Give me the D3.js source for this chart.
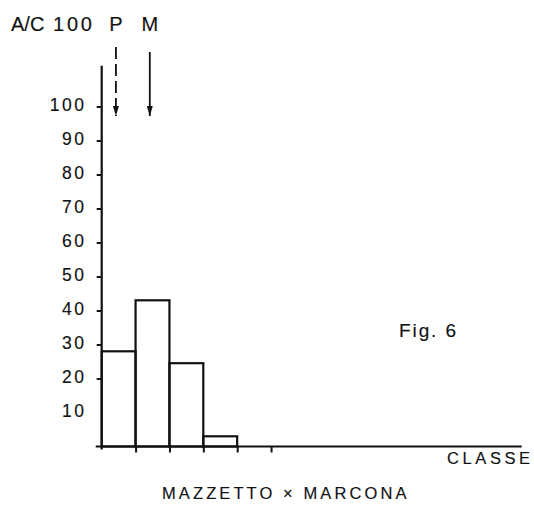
<!DOCTYPE html>
<html>
<head>
<meta charset="utf-8">
<script src="https://cdn.jsdelivr.net/npm/d3@7/dist/d3.min.js"></script>
<style>
  html, body { margin: 0; padding: 0; background: #fff; }
  svg { display: block; }
  text { font-family: "Liberation Sans", Arial, Helvetica, sans-serif; fill: #111; stroke: #111; stroke-width: 0.15px; }
</style>
</head>
<body>
<svg id="chart" width="534" height="514"></svg>
<script>
// Histogram: percentage of plants per class, Mazzetto x Marcona cross
const classIndex = [0, 1, 2, 3];
const percentValues = [28, 43, 24.5, 3];
const yTickValues = [10, 20, 30, 40, 50, 60, 70, 80, 90, 100];
const classEdges = [1, 2, 3, 4, 5];
// parent class positions (P dashed, M solid)
const parentLabels = ["P", "M"];
const parentClass = [0.42, 1.42];
const parentDashed = [true, false];

const svg = d3.select("#chart");
const ink = "#111";

const x = d3.scaleLinear().domain([0, 12.4]).range([101.7, 521.7]);
const y = d3.scaleLinear().domain([0, 100]).range([446.5, 106.5]);

// bars
svg.append("g").selectAll("rect")
  .data(classIndex)
  .join("rect")
  .attr("x", i => x(i))
  .attr("y", i => y(percentValues[i]))
  .attr("width", i => x(i + 1) - x(i))
  .attr("height", i => y(0) - y(percentValues[i]))
  .attr("fill", "none")
  .attr("stroke", ink)
  .attr("stroke-width", 2.2);

// y axis
const yAxis = svg.append("g")
  .attr("transform", `translate(${x(0)},0)`)
  .call(d3.axisLeft(y).tickValues(yTickValues).tickSize(5).tickPadding(10).tickFormat(d3.format("d")));
yAxis.select(".domain").remove();
yAxis.selectAll(".tick line").attr("stroke", ink).attr("stroke-width", 2)
  .attr("opacity", d => d === 10 ? 0 : 1);
yAxis.selectAll(".tick text")
  .attr("font-size", 17.5)
  .attr("letter-spacing", "2.6px")
  .attr("dy", "0.22em")
  .attr("font-family", "Liberation Sans, Arial, sans-serif")
  .attr("fill", ink);
svg.append("line")
  .attr("x1", x(0)).attr("x2", x(0))
  .attr("y1", y(112)).attr("y2", y(0) + 3)
  .attr("stroke", ink).attr("stroke-width", 2.2);

// x axis
const xAxis = svg.append("g")
  .attr("transform", `translate(0,${y(0)})`)
  .call(d3.axisBottom(x).tickValues(classEdges).tickSize(6).tickFormat(""));
xAxis.select(".domain").remove();
xAxis.selectAll(".tick line").attr("stroke", ink).attr("stroke-width", 2);
svg.append("line")
  .attr("x1", x(0) - 6).attr("x2", x(12.4))
  .attr("y1", y(0)).attr("y2", y(0))
  .attr("stroke", ink).attr("stroke-width", 2);

// parent arrows
const defs = svg.append("defs");
defs.append("marker")
  .attr("id", "head")
  .attr("viewBox", "0 0 10 6")
  .attr("refX", 10).attr("refY", 3)
  .attr("markerWidth", 10).attr("markerHeight", 6)
  .attr("markerUnits", "userSpaceOnUse")
  .attr("orient", "auto")
  .append("path").attr("d", "M0,0 L10,3 L0,6 Z").attr("fill", ink);

const arrowTop = [47, 52];
parentLabels.forEach((lab, i) => {
  const cx = x(parentClass[i]);
  svg.append("line")
    .attr("x1", cx).attr("x2", cx)
    .attr("y1", arrowTop[i]).attr("y2", 116)
    .attr("stroke", ink).attr("stroke-width", 1.8)
    .attr("stroke-dasharray", parentDashed[i] ? "12,5" : null)
    .attr("marker-end", "url(#head)");
  svg.append("text")
    .attr("x", cx).attr("y", 31)
    .attr("text-anchor", "middle")
    .attr("font-size", 20)
    .text(lab);
});

// header text
svg.append("text").attr("x", 11).attr("y", 31).attr("font-size", 20).text("A/C");
svg.append("text").attr("x", 53).attr("y", 31).attr("font-size", 20)
  .attr("letter-spacing", "2.8px").text("100");

// annotations
svg.append("text").attr("x", 399).attr("y", 337).attr("font-size", 19)
  .attr("letter-spacing", "1.9px").text("Fig. 6");
svg.append("text").attr("x", 447).attr("y", 463.5).attr("font-size", 16.5)
  .attr("letter-spacing", "3.6px").text("CLASSE");
svg.append("text").attr("x", 162).attr("y", 499).attr("font-size", 16.5)
  .attr("letter-spacing", "3.1px").text("MAZZETTO × MARCONA");
</script>
</body>
</html>
